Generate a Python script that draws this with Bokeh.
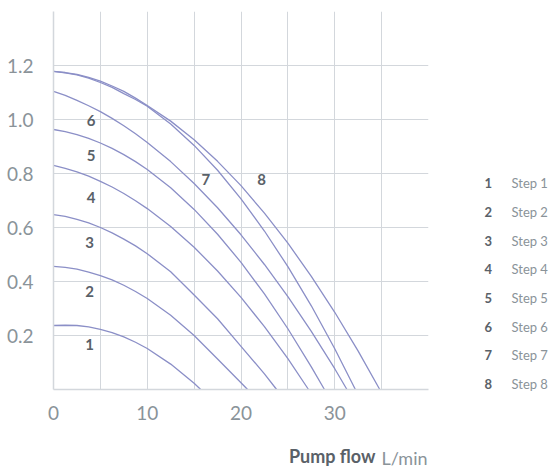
from bokeh.plotting import figure
from bokeh.models import Range1d, FixedTicker, LinearAxis, ColumnDataSource, Title
from bokeh.core.properties import value
from bokeh.embed import file_html
from bokeh.resources import INLINE

# ---- data ----
flow_s1 = [0, 1.25, 2.5, 3.75, 5, 6.25, 7.5, 8.75, 10, 12.5, 15, 15.7]
head_s1 = [0.237, 0.238, 0.237, 0.232, 0.223, 0.211, 0.195, 0.175, 0.152, 0.094, 0.023, 0.0]

flow_s2 = [0, 1.25, 2.5, 3.75, 5, 6.25, 7.5, 8.75, 10, 12.5, 15, 17.5, 20, 20.7]
head_s2 = [0.456, 0.452, 0.446, 0.435, 0.422, 0.406, 0.386, 0.363, 0.337, 0.275, 0.200, 0.113, 0.025, 0.0]

flow_s3 = [0, 1.25, 2.5, 3.75, 5, 6.25, 7.5, 8.75, 10, 12.5, 15, 17.5, 20, 22.5, 23.8]
head_s3 = [0.648, 0.641, 0.630, 0.617, 0.600, 0.580, 0.557, 0.532, 0.503, 0.436, 0.350, 0.262, 0.160, 0.058, 0.0]

flow_s4 = [0, 1.25, 2.5, 3.75, 5, 6.25, 7.5, 8.75, 10, 12.5, 15, 17.5, 20, 22.5, 25, 27.2]
head_s4 = [0.830, 0.819, 0.806, 0.790, 0.771, 0.750, 0.726, 0.699, 0.670, 0.604, 0.527, 0.439, 0.341, 0.233, 0.114, 0.0]

flow_s5 = [0, 1.25, 2.5, 3.75, 5, 6.25, 7.5, 8.75, 10, 12.5, 15, 17.5, 20, 22.5, 25, 27.5, 28.9]
head_s5 = [0.963, 0.955, 0.944, 0.930, 0.913, 0.893, 0.870, 0.844, 0.815, 0.747, 0.667, 0.575, 0.471, 0.354, 0.225, 0.084, 0.0]

flow_s6 = [0, 1.25, 2.5, 3.75, 5, 6.25, 7.5, 8.75, 10, 12.5, 15, 17.5, 20, 22.5, 25, 27.5, 30, 31.3]
head_s6 = [1.104, 1.089, 1.071, 1.051, 1.029, 1.004, 0.977, 0.947, 0.915, 0.844, 0.763, 0.673, 0.573, 0.463, 0.344, 0.215, 0.077, 0.0]

flow_s7 = [0, 1.25, 2.5, 3.75, 5, 6.25, 7.5, 8.75, 10, 12.5, 15, 17.5, 20, 22.5, 25, 27.5, 30, 32.2]
head_s7 = [1.178, 1.173, 1.165, 1.153, 1.137, 1.119, 1.096, 1.074, 1.049, 0.983, 0.904, 0.812, 0.706, 0.587, 0.455, 0.310, 0.151, 0.0]

flow_s8 = [0, 1.25, 2.5, 3.75, 5, 6.25, 7.5, 8.75, 10, 12.5, 15, 17.5, 20, 22.5, 25, 27.5, 30, 32.5, 34.8]
head_s8 = [1.178, 1.174, 1.167, 1.156, 1.142, 1.124, 1.104, 1.079, 1.052, 0.994, 0.925, 0.845, 0.755, 0.653, 0.542, 0.419, 0.286, 0.142, 0.0]

step_ids = ["1", "2", "3", "4", "5", "6", "7", "8"]
legend_texts = ["Step 1", "Step 2", "Step 3", "Step 4", "Step 5", "Step 6", "Step 7", "Step 8"]

x_ticks = [0, 10, 20, 30]
x_tick_labels = ["0", "10", "20", "30"]
y_ticks = [0.2, 0.4, 0.6, 0.8, 1.0, 1.2]
y_tick_labels = ["0.2", "0.4", "0.6", "0.8", "1.0", "1.2"]

x_title_bold = "Pump flow"
x_title_unit = "L/min"

# ---- layout / style ----
FONT = "Lato"
LINE_COLOR = "#8b8fc7"
GRID_COLOR = "#d3d7dc"
TICK_COLOR = "#8a9399"
DARK = "#5a6168"

FRAME_PX = 378          # frame is 378 x 378 px
Y_MAX = 1.4
PX_PER_Y = FRAME_PX / Y_MAX

# in-plot curve label positions (flow, head)
label_x = [3.85, 3.85, 3.85, 4.0, 4.0, 4.0, 16.26, 22.2]
label_y = [0.166, 0.363, 0.543, 0.712, 0.867, 0.996, 0.778, 0.778]

# legend rows: first row 206 px above the frame bottom, 28.6 px pitch
legend_row_y = [round((206 - 28.6 * i) / PX_PER_Y, 4) for i in range(len(step_ids))]

p = figure(width=550, height=470, output_backend="svg", toolbar_location=None,
           x_range=Range1d(0, 40), y_range=Range1d(0, Y_MAX),
           min_border_left=53, min_border_top=11, min_border_right=119,
           min_border_bottom=81)
p.outline_line_color = None
p.background_fill_color = "white"
p.border_fill_color = "white"

p.xgrid.ticker = FixedTicker(ticks=[0, 5, 10, 15, 20, 25, 30, 35])
p.ygrid.ticker = FixedTicker(ticks=[0] + y_ticks)
for g in (p.xgrid, p.ygrid):
    g.grid_line_color = GRID_COLOR
    g.grid_line_width = 1

p.xaxis.ticker = FixedTicker(ticks=x_ticks)
p.yaxis.ticker = FixedTicker(ticks=y_ticks)
p.xaxis.major_label_overrides = {t: l for t, l in zip(x_ticks, x_tick_labels)}
p.yaxis.major_label_overrides = {t: l for t, l in zip(y_ticks, y_tick_labels)}
for ax in (p.xaxis, p.yaxis):
    ax.axis_line_color = GRID_COLOR
    ax.axis_line_width = 1.5
    ax.major_tick_line_color = None
    ax.minor_tick_line_color = None
    ax.major_tick_in = 0
    ax.major_tick_out = 0
    ax.major_label_text_font = FONT
    ax.major_label_text_font_size = "19px"
    ax.major_label_text_color = TICK_COLOR
p.yaxis.major_label_standoff = 20
p.xaxis.major_label_standoff = 16
# blank spacer label: pushes the title row down to the bottom of the picture
p.xaxis.axis_label = " "
p.xaxis.axis_label_text_font_size = "17px"
p.xaxis.axis_label_standoff = 11

series = [(flow_s1, head_s1), (flow_s2, head_s2), (flow_s3, head_s3), (flow_s4, head_s4),
          (flow_s5, head_s5), (flow_s6, head_s6), (flow_s7, head_s7), (flow_s8, head_s8)]
for fx, hy in series:
    p.line(fx, hy, line_color=LINE_COLOR, line_width=1.3)

src = ColumnDataSource(dict(x=label_x, y=label_y, t=step_ids))
p.text(x="x", y="y", text="t", source=src, text_font=value(FONT),
       text_font_style="bold", text_font_size="15px", text_color=DARK,
       text_align="center", text_baseline="middle")


# legend on the right, built from two label-only axes
def label_axis(labels, standoff, color, style):
    ax = LinearAxis(ticker=FixedTicker(ticks=legend_row_y),
                    major_label_overrides={t: l for t, l in zip(legend_row_y, labels)})
    ax.axis_line_color = None
    ax.major_tick_line_color = None
    ax.minor_tick_line_color = None
    ax.major_tick_in = 0
    ax.major_tick_out = 0
    ax.major_label_standoff = standoff
    ax.major_label_text_font = FONT
    ax.major_label_text_font_size = "13px"
    ax.major_label_text_font_style = style
    ax.major_label_text_color = color
    return ax


p.add_layout(label_axis(step_ids, 56, DARK, "bold"), "right")
p.add_layout(label_axis(legend_texts, 16, TICK_COLOR, "normal"), "right")

# x-axis title: two zero-height titles sharing one row, right-aligned to the frame
p.add_layout(Title(text=x_title_bold, align="right", offset=53, standoff=-22,
                   vertical_align="top", text_font=FONT, text_font_style="bold",
                   text_font_size="18px", text_color=DARK), "below")
p.add_layout(Title(text=x_title_unit, align="right", offset=1, standoff=-22,
                   vertical_align="top", text_font=FONT, text_font_style="normal",
                   text_font_size="18px", text_color=TICK_COLOR), "below")

open("out.html", "w").write(file_html(p, INLINE))
